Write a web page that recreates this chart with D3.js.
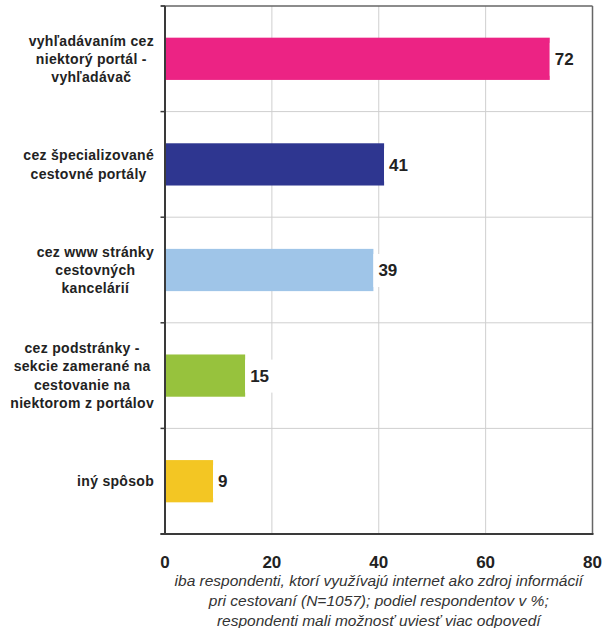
<!DOCTYPE html>
<html>
<head>
<meta charset="utf-8">
<script src="https://cdn.jsdelivr.net/npm/d3@7"></script>
<style>
body { margin: 0; background: #fff; }
svg { display: block; font-family: "Liberation Sans", Arial, sans-serif; }
</style>
</head>
<body>
<svg id="chart" width="610" height="628"></svg>
<script>
var categories = [
    "vyhľadávaním cez\nniektorý portál -\nvyhľadávač",
    "cez špecializované\ncestovné portály",
    "cez www stránky\ncestovných\nkancelárií",
    "cez podstránky -\nsekcie zamerané na\ncestovanie na\nniektorom z portálov",
    "iný spôsob"
];
var values = [72, 41, 39, 15, 9];
var barColors = ["#EC2384", "#2E3690", "#9FC5E8", "#97C23D", "#F3C623"];
var xTicks = [0, 20, 40, 60, 80];
var footnote = [
    "iba respondenti, ktorí využívajú internet ako zdroj informácií",
    "pri cestovaní (N=1057); podiel respondentov  v %;",
    "respondenti mali možnosť uviesť viac odpovedí"
];

var plotLeft = 165, plotRight = 592.5, plotTop = 6, plotBottom = 534;

var svg = d3.select("#chart");

var xScale = d3.scaleLinear().domain([0, 80]).range([plotLeft, plotRight]);
var yScale = d3.scaleBand().domain(categories).range([plotTop, plotBottom])
    .paddingInner(0.6).paddingOuter(0.3);

// grid
svg.selectAll(".vgrid")
    .data(xTicks.slice(1, -1))
    .enter().append("line")
    .attr("x1", function(d) { return xScale(d); })
    .attr("x2", function(d) { return xScale(d); })
    .attr("y1", plotTop)
    .attr("y2", plotBottom)
    .attr("stroke", "#cfcfcf")
    .attr("stroke-width", 1);

var bounds = d3.range(0, categories.length + 1).map(function(i) {
    return plotTop + i * yScale.step();
});

svg.selectAll(".hgrid")
    .data(bounds.slice(1, -1))
    .enter().append("line")
    .attr("x1", plotLeft)
    .attr("x2", plotRight)
    .attr("y1", function(d) { return d; })
    .attr("y2", function(d) { return d; })
    .attr("stroke", "#cfcfcf")
    .attr("stroke-width", 1);

// bars
svg.selectAll(".bar")
    .data(values)
    .enter().append("rect")
    .attr("x", xScale(0))
    .attr("y", function(d, i) { return yScale(categories[i]); })
    .attr("width", function(d) { return xScale(d) - xScale(0); })
    .attr("height", yScale.bandwidth())
    .attr("fill", function(d, i) { return barColors[i]; });

// value labels with white background
values.forEach(function(v, i) {
    var cy = yScale(categories[i]) + yScale.bandwidth() / 2;
    var bg = svg.append("rect").attr("fill", "#fff");
    var t = svg.append("text")
        .attr("x", xScale(v) + 5)
        .attr("y", cy)
        .attr("dy", "0.36em")
        .attr("font-size", 17)
        .attr("font-weight", "bold")
        .attr("fill", "#222")
        .text(v);
    var w = t.node().getComputedTextLength();
    bg.attr("x", xScale(v))
        .attr("y", cy - 16)
        .attr("width", w + 11)
        .attr("height", 33);
});

// borders
svg.append("line")
    .attr("x1", plotLeft - 4).attr("x2", plotRight)
    .attr("y1", plotTop).attr("y2", plotTop)
    .attr("stroke", "#666").attr("stroke-width", 1.5);
svg.append("line")
    .attr("x1", plotRight).attr("x2", plotRight)
    .attr("y1", plotTop).attr("y2", plotBottom)
    .attr("stroke", "#666").attr("stroke-width", 1.5);

// left axis with ticks
svg.append("line")
    .attr("x1", plotLeft).attr("x2", plotLeft)
    .attr("y1", plotTop).attr("y2", plotBottom)
    .attr("stroke", "#3a3a3a").attr("stroke-width", 2);
svg.selectAll(".ytick")
    .data(bounds)
    .enter().append("line")
    .attr("x1", plotLeft - 4.5).attr("x2", plotLeft)
    .attr("y1", function(d) { return d; })
    .attr("y2", function(d) { return d; })
    .attr("stroke", "#3a3a3a").attr("stroke-width", 1.5);

// bottom axis
svg.append("line")
    .attr("x1", plotLeft - 4.5).attr("x2", plotRight + 1)
    .attr("y1", plotBottom).attr("y2", plotBottom)
    .attr("stroke", "#3a3a3a").attr("stroke-width", 2);

svg.selectAll(".xlabel")
    .data(xTicks)
    .enter().append("text")
    .attr("x", function(d) { return xScale(d); })
    .attr("y", 568)
    .attr("text-anchor", "middle")
    .attr("font-size", 17)
    .attr("font-weight", "bold")
    .attr("fill", "#222")
    .text(function(d) { return d; });

// category labels: block right-aligned, lines centred
categories.forEach(function(c) {
    var lines = c.split("\n");
    var cy = yScale(c) + yScale.bandwidth() / 2;
    var lh = 18.3;
    var g = svg.append("g");
    var texts = lines.map(function(l, j) {
        return g.append("text")
            .attr("y", cy + (j - (lines.length - 1) / 2) * lh)
            .attr("dy", "0.36em")
            .attr("text-anchor", "middle")
            .attr("font-size", 14)
            .attr("letter-spacing", 0.3)
            .attr("font-weight", "bold")
            .attr("fill", "#222")
            .text(l);
    });
    var maxW = d3.max(texts, function(t) { return t.node().getComputedTextLength(); });
    texts.forEach(function(t) { t.attr("x", 154 - maxW / 2); });
});

// footnote
svg.selectAll(".note")
    .data(footnote)
    .enter().append("text")
    .attr("x", (plotLeft + plotRight) / 2)
    .attr("y", function(d, i) { return 586 + i * 20; })
    .attr("text-anchor", "middle")
    .attr("font-size", 15.5)
    .attr("font-style", "italic")
    .attr("fill", "#333")
    .text(function(d) { return d; });
</script>
</body>
</html>
